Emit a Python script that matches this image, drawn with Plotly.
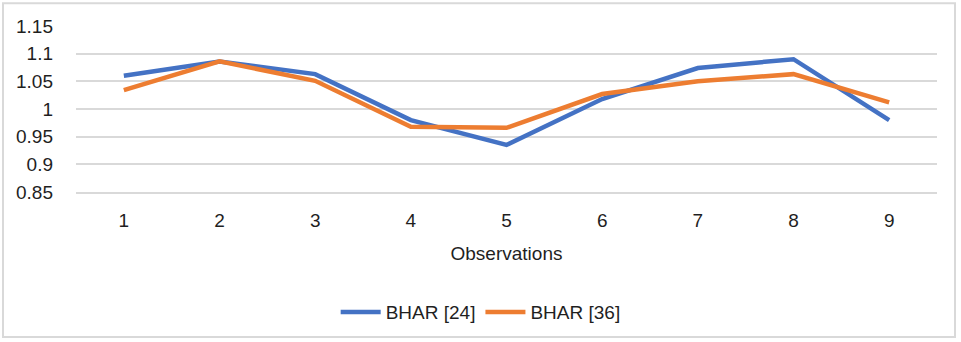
import plotly.graph_objects as go

observations = ["1", "2", "3", "4", "5", "6", "7", "8", "9"]
bhar_24 = [1.060, 1.086, 1.063, 0.980, 0.935, 1.018, 1.074, 1.090, 0.980]
bhar_36 = [1.034, 1.086, 1.051, 0.968, 0.966, 1.027, 1.050, 1.063, 1.012]
y_ticks = [0.85, 0.9, 0.95, 1, 1.05, 1.1, 1.15]
y_tick_labels = ["0.85", "0.9", "0.95", "1", "1.05", "1.1", "1.15"]

FONT = "Liberation Sans, Arial, sans-serif"
TXT = "#1f1f1f"
FS = 19

fig = go.Figure()
fig.add_trace(go.Scatter(x=observations, y=bhar_24, mode="lines", name="BHAR [24]",
                         line=dict(color="#4472C4", width=4.5)))
fig.add_trace(go.Scatter(x=observations, y=bhar_36, mode="lines", name="BHAR [36]",
                         line=dict(color="#ED7D31", width=4.5)))

fig.update_layout(
    width=961, height=342,
    margin=dict(l=76, r=24, t=26, b=149),
    paper_bgcolor="white", plot_bgcolor="white",
    font=dict(family=FONT, size=FS, color=TXT),
    showlegend=True,
    legend=dict(orientation="h", x=0.47, xanchor="center", y=-0.713, yanchor="middle",
                font=dict(family=FONT, size=FS, color=TXT), itemwidth=40,
                tracegroupgap=0, traceorder="normal"),
    xaxis=dict(type="category", range=[-0.5, 8.5], showgrid=False, zeroline=False,
               showline=True, linecolor="#D9D9D9", linewidth=1.5,
               ticks="", tickfont=dict(family=FONT, size=FS, color=TXT),
               ticklabelstandoff=10,
               title=dict(text="Observations", font=dict(family=FONT, size=FS, color=TXT),
                          standoff=17)),
    yaxis=dict(range=[0.85, 1.15], tickvals=y_ticks, ticktext=y_tick_labels,
               showgrid=True, gridcolor="#D9D9D9", gridwidth=1.5, zeroline=False,
               showline=False, ticks="", tickfont=dict(family=FONT, size=FS, color=TXT),
               ticklabelstandoff=22),
    shapes=[dict(type="rect", xref="paper", yref="paper",
                 x0=-0.0848, x1=1.0209, y0=-0.874, y1=1.1377,
                 line=dict(color="#D9D9D9", width=2), layer="below")],
)
fig.write_html("out.html")
